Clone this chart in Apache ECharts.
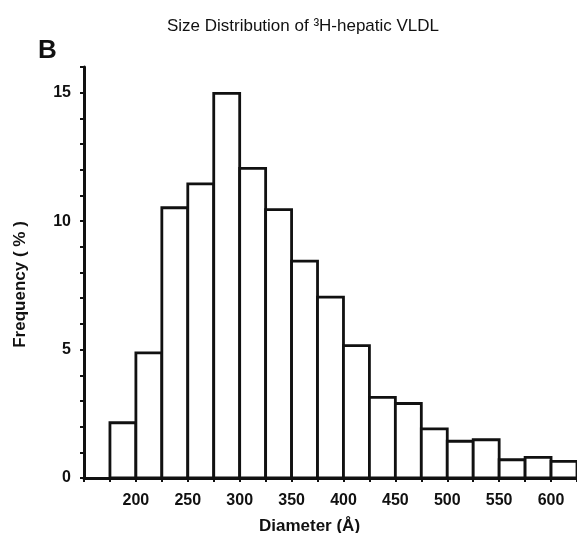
<!DOCTYPE html>
<html>
<head>
<meta charset="utf-8">
<script src="https://cdn.jsdelivr.net/npm/echarts@6/dist/echarts.min.js"></script>
<style>
html,body{margin:0;padding:0;background:#fff;}
#chart{width:577px;height:533px;}
</style>
</head>
<body>
<div id="chart"></div>
<script>
// Histogram bins (left edges, Å) and frequencies (%)
const binStarts = [175, 200, 225, 250, 275, 300, 325, 350, 375, 400, 425, 450, 475, 500, 525, 550, 575, 600];
const binWidth = 25;
const frequencies = [2.15, 4.87, 10.52, 11.45, 14.97, 12.05, 10.45, 8.44, 7.04, 5.15, 3.14, 2.9, 1.91, 1.43, 1.49, 0.71, 0.8, 0.65];
const xTickLabels = [200, 250, 300, 350, 400, 450, 500, 550, 600];
const yTickLabels = [0, 5, 10, 15];
const titleText = 'Size Distribution of \u00B3H-hepatic VLDL';
const panelLabel = 'B';
const xAxisName = 'Diameter (\u00C5)';
const yAxisName = 'Frequency ( % )';

const data = binStarts.map((s, i) => [s, s + binWidth, frequencies[i]]);
const FONT = '"Liberation Sans", Arial, Helvetica, sans-serif';

const chart = echarts.init(document.getElementById('chart'), null, {renderer: 'canvas'});
chart.setOption({
  backgroundColor: '#fff',
  animation: false,
  title: [
    {text: titleText, left: 298, top: 13, textAlign: 'center',
     textStyle: {fontFamily: FONT, fontSize: 17, fontWeight: 'normal', color: '#111'}},
    {text: panelLabel, left: 33, top: 33,
     textStyle: {fontFamily: FONT, fontSize: 26, fontWeight: 'bold', color: '#111'}}
  ],
  grid: {left: 84, right: 0, top: 67, bottom: 55, containLabel: false, outerBoundsMode: 'none'},
  xAxis: {
    type: 'value', min: 150, max: 625, interval: 25,
    name: xAxisName, nameLocation: 'middle', nameGap: 40,
    nameTextStyle: {fontFamily: FONT, fontSize: 17, fontWeight: 'bold', color: '#111', padding: [0, 42, 0, 0]},
    axisLine: {show: true, onZero: false, lineStyle: {color: '#111', width: 3}},
    axisTick: {show: true, inside: false, length: 4, lineStyle: {color: '#111', width: 2}},
    axisLabel: {
      margin: 15, fontFamily: FONT, fontSize: 16, fontWeight: 'bold', color: '#111',
      formatter: v => xTickLabels.includes(v) ? String(v) : ''
    },
    splitLine: {show: false}
  },
  yAxis: {
    type: 'value', min: 0, max: 16, interval: 1,
    name: yAxisName, nameLocation: 'middle', nameGap: 55, nameRotate: 90,
    nameTextStyle: {fontFamily: FONT, fontSize: 17, fontWeight: 'bold', color: '#111', padding: [0, 0, 0, -24]},
    axisLine: {show: true, lineStyle: {color: '#111', width: 3}},
    axisTick: {show: true, length: 4, lineStyle: {color: '#111', width: 2}},
    axisLabel: {
      margin: 13, fontFamily: FONT, fontSize: 16, fontWeight: 'bold', color: '#111',
      formatter: v => yTickLabels.includes(v) ? String(v) : ''
    },
    splitLine: {show: false}
  },
  series: [{
    type: 'custom',
    data: data,
    encode: {x: [0, 1], y: 2},
    renderItem: function (params, api) {
      const p0 = api.coord([api.value(0), api.value(2)]);
      const p1 = api.coord([api.value(1), 0]);
      return {
        type: 'rect',
        shape: {x: p0[0], y: p0[1], width: p1[0] - p0[0], height: p1[1] - p0[1]},
        style: {fill: '#fff', stroke: '#111', lineWidth: 2.8}
      };
    }
  }]
});
</script>
</body>
</html>
